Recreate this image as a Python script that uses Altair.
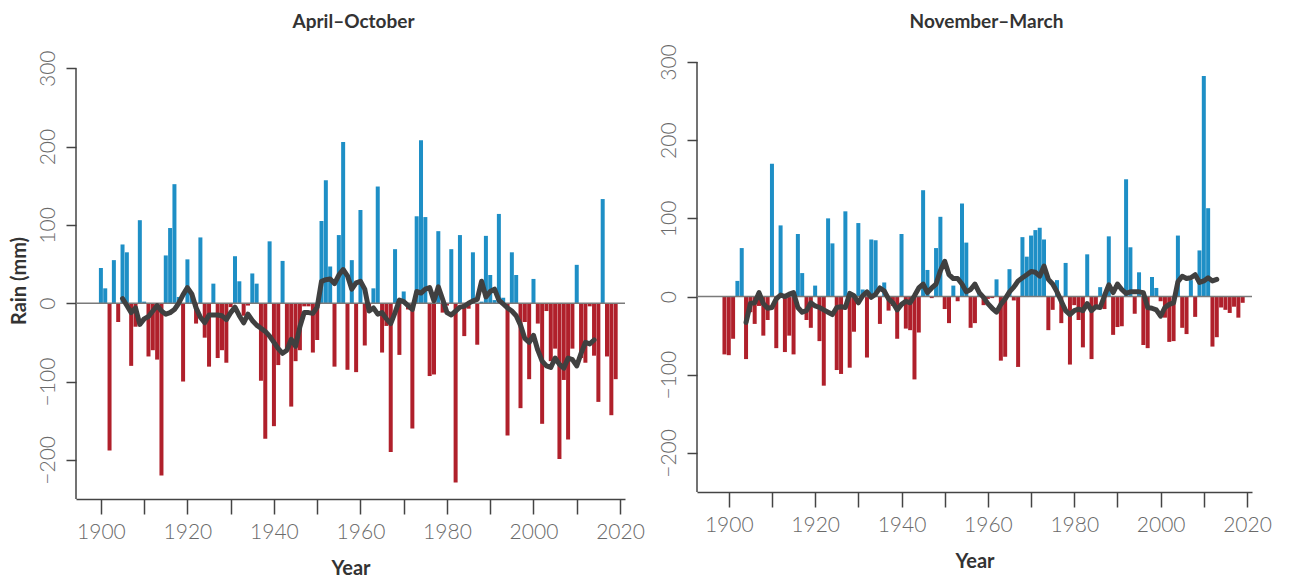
import altair as alt
import pandas as pd

# ---------------- data ----------------
years_ao = list(range(1900, 2020))
rain_ao = [45, 19, -188, 55, -24, 75, 65, -80, -30, 106,
           2, -68, -60, -72, -220, 61, 96, 152, 8, -100,
           56, 12, -26, 84, -44, -81, 25, -70, -60, -76,
           -5, 60, 28, -16, -3, 38, 25, -99, -173, 79,
           -157, -79, 54, -60, -132, -74, -60, -4, -4, -63,
           -47, 105, 157, 47, -81, 87, 206, -85, 55, -88,
           119, -54, -5, 19, 149, -63, -29, -190, 69, -66,
           15, -8, -160, 111, 208, 110, -93, -91, 92, -12,
           -3, 69, -229, 87, -42, -7, 65, -53, 2, 86,
           36, 4, 114, 7, -169, 65, 36, -134, -24, -97,
           31, -26, -154, -10, -74, -58, -199, -98, -174, -58,
           49, -70, -76, -4, -67, -126, 133, -68, -143, -97]
ma_years_ao = list(range(1905, 2015))
ma_ao = [6, -3, -12, -6, -27, -20, -17, -10, -3, -10,
         -14, -12, -8, 0, 11, 20, 12, -6, -18, -25,
         -15, -15, -15, -16, -21, -12, -5, -16, -25, -14,
         -22, -28, -32, -36, -42, -50, -58, -64, -60, -46,
         -55, -30, -12, -12, -13, -5, 28, 30, 31, 25,
         36, 43, 35, 18, 26, 28, 18, -10, -6, -14,
         -12, -20, -26, -12, 4, 2, -3, -8, 15, 13,
         18, 20, 3, 21, 5, -12, -15, -10, -5, -4,
         0, 3, 5, 28, 8, 15, 18, 4, -1, -6,
         -10, -16, -28, -45, -50, -41, -60, -74, -80, -82,
         -70, -78, -83, -70, -72, -80, -64, -50, -52, -47]

years_nm = list(range(1899, 2020))
rain_nm = [-74, -75, -54, 20, 62, -80, -20, -35, -12, -50,
           -30, 170, -66, 91, -71, -50, -74, 80, 30, -30,
           -40, 14, -57, -114, 100, 68, -94, -99, 109, -91,
           -45, 94, 9, -78, 73, 72, -35, 18, -18, -12,
           -54, 80, -41, -43, -106, -46, 136, 34, -2, 62,
           102, -16, -34, 14, -6, 119, 69, -40, -34, 5,
           -11, -3, -2, 22, -82, -77, 35, -5, -90, 76,
           51, 78, 85, 88, 73, -43, -17, 21, -34, 43,
           -87, -11, -30, -65, 54, -80, -15, 12, -16, 77,
           -49, -39, -38, 150, 63, -22, 31, -62, -66, 25,
           11, -6, -27, -58, -57, 78, -40, -48, 21, -26,
           59, 282, 113, -64, -52, -14, -17, -21, -13, -27,
           -8]
ma_years_nm = list(range(1904, 2014))
ma_nm = [-33, -9, -8, 5, -9, -15, -14, -3, 2, 0,
         3, 5, -14, -20, -18, -8, -12, -14, -17, -20,
         -23, -14, -13, -14, 4, 1, -8, 1, 6, -1,
         3, 11, 7, -3, -8, -17, -10, -6, -8, 1,
         11, 16, 5, 11, 16, 33, 45, 28, 23, 23,
         16, 6, 9, 16, 5, -1, -9, -15, -20, -10,
         -3, 6, 12, 20, 24, 28, 32, 31, 26, 39,
         22, 16, 6, -6, -18, -23, -18, -16, -18, -9,
         -18, -13, -14, 1, 15, 5, 16, 9, 4, 6,
         6, 6, 5, -14, -15, -17, -25, -14, -10, -8,
         19, 26, 23, 24, 28, 18, 20, 24, 20, 22]

y_ticks = [-200, -100, 0, 100, 200, 300]
x_ticks = list(range(1900, 2021, 10))

BLUE = "#1e8fc6"
RED = "#b0202b"
LINE = "#404040"
AXIS = "#444444"
FONT = "Lato"


def panel(years, rain, ma_years, ma, title, xdom, ytop, width, height,
          ytitle, title_offset, title_dx):
    bars_df = pd.DataFrame({"year": years, "rain": rain})
    ma_df = pd.DataFrame({"year": ma_years, "ma": ma})
    zero_df = pd.DataFrame({"v": [0]})
    axis_df = pd.DataFrame({"lo": [-250], "hi": [300]})
    xs = alt.Scale(domain=xdom, nice=False, zero=False)
    ys = alt.Scale(domain=[-250, ytop], nice=False, zero=False)
    xaxis = alt.Axis(values=x_ticks, format="d",
                     labelExpr="datum.value % 20 == 0 ? datum.label : ''",
                     title="Year", tickSize=15, labelPadding=7,
                     titlePadding=16)
    yaxis = alt.Axis(values=y_ticks, title=ytitle, tickSize=10, domain=False,
                     labelAngle=270, labelAlign="center",
                     labelBaseline="alphabetic", labelPadding=12,
                     titlePadding=8)
    bars = alt.Chart(bars_df).mark_bar(size=4).encode(
        x=alt.X("year:Q", scale=xs, axis=xaxis),
        y=alt.Y("rain:Q", scale=ys, axis=yaxis),
        y2=alt.datum(0),
        color=alt.condition("datum.rain >= 0", alt.value(BLUE), alt.value(RED)),
    )
    yline = alt.Chart(axis_df).mark_rule(color=AXIS, strokeWidth=1.5).encode(
        x=alt.value(0),
        y=alt.Y("hi:Q", scale=ys),
        y2="lo:Q",
    )
    zero = alt.Chart(zero_df).mark_rule(color="#7a7a7a", strokeWidth=1.5).encode(
        y=alt.Y("v:Q", scale=ys),
        x=alt.value(0),
        x2=alt.value(width),
    )
    line = alt.Chart(ma_df).mark_line(
        color=LINE, strokeWidth=5, strokeJoin="round", strokeCap="round"
    ).encode(
        x=alt.X("year:Q", scale=xs),
        y=alt.Y("ma:Q", scale=ys),
    )
    return alt.layer(bars, yline, zero, line).properties(
        width=width, height=height,
        title=alt.TitleParams(title, anchor="middle", frame="group",
                              offset=title_offset, dx=title_dx,
                              font=FONT, fontSize=19, fontWeight="bold",
                              color="#333333"),
    )


left = panel(years_ao, rain_ao, ma_years_ao, ma_ao, "April\u2013October",
             [1895.4, 2020], 308, 549, 437, "Rain (mm)", 18, 3)
right = panel(years_nm, rain_nm, ma_years_nm, ma_nm, "November\u2013March",
              [1893.8, 2020], 300, 555, 430, None, 12, 12)

chart = alt.hconcat(left, right, spacing=12).properties(
    padding={"left": 0, "top": 4, "right": 0, "bottom": 0}
).configure_view(strokeWidth=0).configure_axis(
    grid=False,
    domainColor=AXIS, domainWidth=1.5,
    tickColor=AXIS, tickWidth=1.5,
    labelColor="#6a6a6a", labelFont=FONT, labelFontSize=21, labelFontWeight=300,
    titleColor="#333333", titleFont=FONT, titleFontSize=20, titleFontWeight="bold",
)

chart.save("out.html", embed_options={"renderer": "svg", "actions": False})
